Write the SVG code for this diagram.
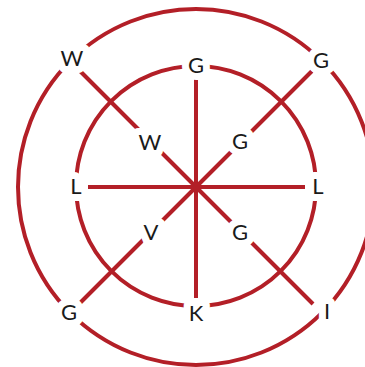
<svg xmlns="http://www.w3.org/2000/svg" width="365" height="367" viewBox="0 0 365 367">
<style>
.ln{stroke:#b31f27;stroke-width:4;fill:none}
.lb{font-family:Lato,"Open Sans",sans-serif;font-size:22px;fill:#1a1a1a;text-anchor:middle;stroke:#fff;stroke-width:14;stroke-linejoin:round;paint-order:stroke}
</style>
<rect width="365" height="367" fill="#fff"/>
<g id="connectors">
<circle class="ln" cx="196" cy="187" r="178"/>
<circle class="ln" cx="196" cy="186" r="120"/>
<line class="ln" x1="80" y1="71" x2="313" y2="304"/>
<line class="ln" x1="312" y1="71" x2="80" y2="303"/>
<line class="ln" x1="88" y1="187" x2="305" y2="187"/>
<line class="ln" x1="196" y1="78" x2="196" y2="298"/>
</g>
<g id="n-W-outer"><text class="lb" x="72" y="66">W</text></g>
<g id="n-G-top"><text class="lb" x="196" y="73">G</text></g>
<g id="n-G-topright"><text class="lb" x="321" y="68">G</text></g>
<g id="n-W-inner"><text class="lb" x="150" y="150">W</text></g>
<g id="n-G-inner-ne"><text class="lb" x="240" y="149">G</text></g>
<g id="n-L-left"><text class="lb" x="76" y="194">L</text></g>
<g id="n-L-right"><text class="lb" x="318" y="194">L</text></g>
<g id="n-V"><text class="lb" x="151" y="240">V</text></g>
<g id="n-G-inner-se"><text class="lb" x="240" y="240">G</text></g>
<g id="n-G-bottomleft"><text class="lb" x="69" y="320">G</text></g>
<g id="n-K"><text class="lb" x="196" y="321">K</text></g>
<g id="n-I"><text class="lb" x="327" y="319">I</text></g>
</svg>
